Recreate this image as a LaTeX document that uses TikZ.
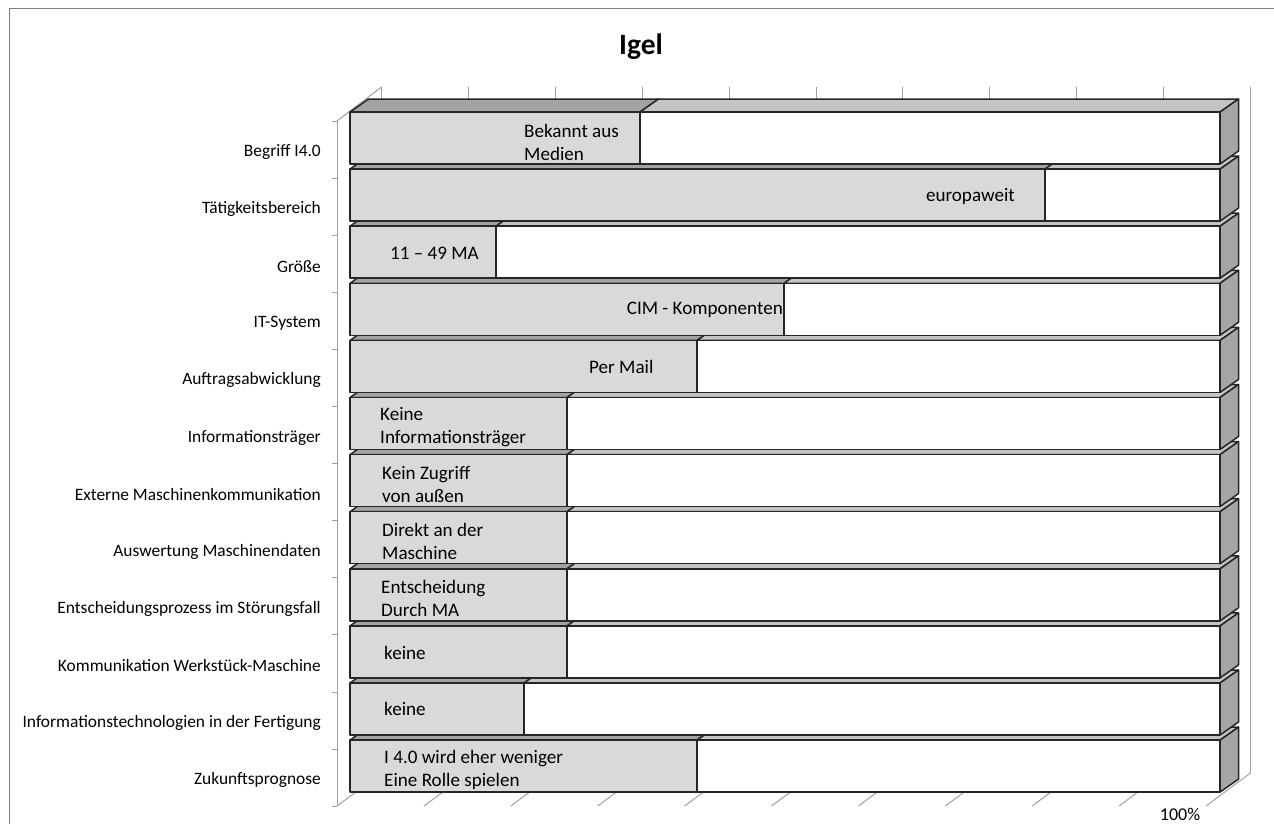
\documentclass[tikz,border=0pt]{standalone}
\usepackage{fontspec}
\setmainfont{Carlito}
\definecolor{barfront}{HTML}{D9D9D9}
\definecolor{bartop}{HTML}{A3A3A3}
\definecolor{whitetop}{HTML}{C4C4C4}
\definecolor{sideface}{HTML}{A6A6A6}
\definecolor{edge}{HTML}{262626}
\definecolor{grid}{HTML}{A0A0A0}
\tikzset{
  face/.style={draw=edge, line width=1.5pt, line join=round},
  gridline/.style={draw=grid, line width=1pt},
  catlabel/.style={anchor=east, inner sep=0pt, font=\fontsize{17.4}{20}\selectfont},
  barlabel/.style={anchor=west, inner sep=0pt, align=left, font=\fontsize{19.1}{23}\selectfont},
}
\begin{document}
\begin{tikzpicture}[x=1pt,y=-1pt]
\useasboundingbox (0,0) rectangle (1274,823);
\fill[white] (0,0) rectangle (1274,823);
% outer border (top and left visible)
\draw[gridline, draw=gray] (9,830) -- (9,8.5) -- (1280,8.5);
% title
\node[font=\bfseries\fontsize{29.5}{34}\selectfont, inner sep=0pt] (title) at (641,47) {Igel};
% back wall gridlines
\foreach \k in {0,...,10}{
  \draw[gridline] ({381.5+86.9*\k},87) -- ({381.5+86.9*\k},773);
  \draw[gridline] ({337+86.9*\k},806) -- ({381.5+86.9*\k},773);
}
% left axis
\draw[gridline] (337,121) -- (381.5,87);
\draw[gridline] (337,121) -- (337,806);
\foreach \k in {0,...,12}{
  \draw[gridline] (332,{121+57.1*\k}) -- (337,{121+57.1*\k});
}
% bars (bottom to top)
\foreach \i/\s in {12/697,11/524,10/567,9/567,8/567,7/567,6/567,5/697,4/784,3/496,2/1045,1/640}{
  \pgfmathsetmacro\yt{112+57.1*(\i-1)}
  \pgfmathsetmacro\yb{\yt+52}
  \pgfmathsetmacro\yk{\yt-13}
  \pgfmathsetmacro\ykb{\yb-13}
  \draw[face, fill=bartop] (350,\yt) -- (\s,\yt) -- (\s+18.5,\yk) -- (368.5,\yk) -- cycle;
  \draw[face, fill=whitetop] (\s,\yt) -- (1220,\yt) -- (1238.5,\yk) -- (\s+18.5,\yk) -- cycle;
  \draw[face, fill=sideface] (1220,\yt) -- (1238.5,\yk) -- (1238.5,\ykb) -- (1220,\yb) -- cycle;
  \draw[face, fill=barfront] (350,\yt) rectangle (\s,\yb);
  \draw[face, fill=white] (\s,\yt) rectangle (1220,\yb);
}
% category labels
\foreach \i/\t [count=\n] in {1/Begriff I4.0, 2/Tätigkeitsbereich, 3/Größe, 4/IT-System, 5/Auftragsabwicklung, 6/Informationsträger, 7/Externe Maschinenkommunikation, 8/Auswertung Maschinendaten, 9/Entscheidungsprozess im Störungsfall, 10/Kommunikation Werkstück-Maschine, 11/Informationstechnologien in der Fertigung, 12/Zukunftsprognose}{
  \node[catlabel] (cat\n) at (321,{112+57.1*(\i-1)+40}) {\t};
}
% bar labels
\node[barlabel] (l1) at (524,{112+30}) {Bekannt aus\\Medien};
\node[barlabel, anchor=east] (l2) at (1015,{169.1+27}) {europaweit};
\node[barlabel] (l3) at (390,{226.2+27}) {11 – 49 MA};
\node[barlabel, anchor=east] (l4) at (783,{283.3+27}) {CIM - Komponenten};
\node[barlabel] (l5) at (589,{340.4+27}) {Per Mail};
\node[barlabel] (l6) at (380,{397.5+30}) {Keine\\Informationsträger};
\node[barlabel] (l7) at (382,{454.6+30}) {Kein Zugriff\\von außen};
\node[barlabel] (l8) at (382,{511.7+30}) {Direkt an der\\Maschine};
\node[barlabel] (l9) at (381,{568.8+30}) {Entscheidung\\Durch MA};
\node[barlabel] (l10) at (384,{625.9+27}) {keine};
\node[barlabel] (l11) at (384,{683+26}) {keine};
\node[barlabel] (l12) at (384,{740.1+30}) {I 4.0 wird eher weniger\\Eine Rolle spielen};
% axis end label
\node[font=\fontsize{18}{21}\selectfont, inner sep=0pt, anchor=base] (pct) at (1180,820) {100\%};
\end{tikzpicture}
\end{document}
